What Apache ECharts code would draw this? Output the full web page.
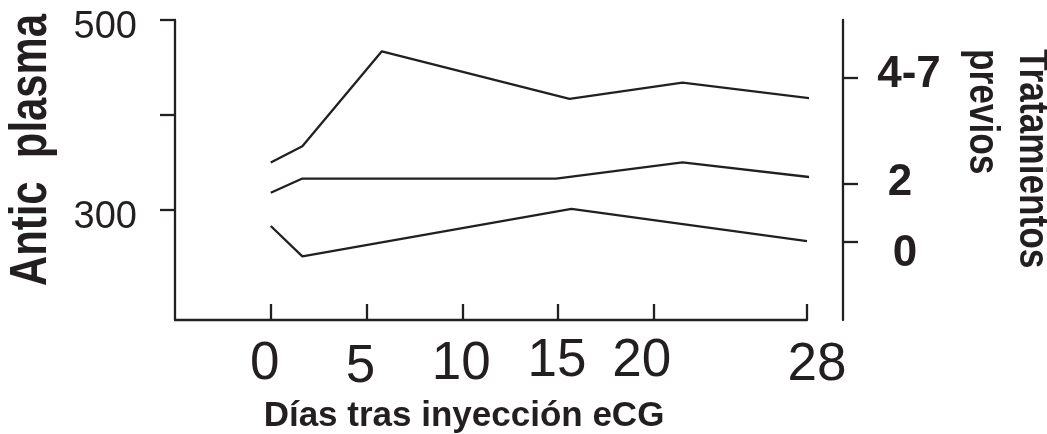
<!DOCTYPE html>
<html>
<head>
<meta charset="utf-8">
<script src="https://cdn.jsdelivr.net/npm/echarts@6/dist/echarts.min.js"></script>
<style>
  html, body { margin: 0; padding: 0; background: #ffffff; }
  #chart { width: 1047px; height: 434px; }
</style>
</head>
<body>
<div id="chart"></div>
<script>
// Day axis ticks and plasma axis ticks
const dayTicks = [0, 5, 10, 15, 20, 28];
const plasmaTicks = [300, 400, 500];
const plasmaLabels = [300, 500];

// Right-hand group markers (number of previous treatments)
const groupTicks = [266, 328, 439];
const groupLabels = ['0', '2', '4-7'];

// Plasma antibody level per day, one line per treatment group
const groupHigh = [[0, 350], [1.65, 367], [5.8, 467], [15.6, 417], [21.5, 434], [28.8, 416]];
const groupMid  = [[0, 318], [1.65, 333], [14.9, 333], [21.5, 350], [28.8, 333]];
const groupNone = [[0, 283], [1.65, 251], [15.7, 301], [28, 267]];

const ink = '#231f20';
const sans = '"Liberation Sans", Arial, Helvetica, sans-serif';
const stroke = 2.3;

// Shift a rich label by (dx, dy) pixels using asymmetric padding
function nudge(dx, dy) {
  return [dy > 0 ? 2 * dy : 0, dx < 0 ? -2 * dx : 0, dy < 0 ? -2 * dy : 0, dx > 0 ? 2 * dx : 0];
}
function richSet(keys, shifts, base) {
  const rich = {};
  keys.forEach((k, i) => {
    rich['k' + i] = Object.assign({}, base, { padding: nudge(shifts[i][0], shifts[i][1]) });
  });
  return rich;
}

const dayBase = { fontSize: 53, lineHeight: 53, fontFamily: sans, color: ink };
const dayShift = [[-6, 0], [-6, 3], [-1, 0], [-1, -3], [-12, -3], [10, 1]];
const plasmaBase = { fontSize: 38, lineHeight: 38, fontFamily: sans, color: ink };
const groupBase = { fontSize: 44, lineHeight: 44, fontWeight: 'bold', fontFamily: sans, color: ink };
const groupShift = [[0, 12], [-5, 0], [4, -3]];

const lineStyle = { color: ink, width: stroke };
const axisStroke = { color: ink, width: stroke };

// Condensed bold titles: regular bold face squeezed along the reading direction
function title(text, x, y, rotation, size, align) {
  return {
    type: 'text', x: x, y: y, rotation: rotation, scaleX: 0.82, silent: true,
    style: {
      text: text, fill: ink, fontSize: size, fontWeight: 'bold', fontFamily: sans,
      align: align, verticalAlign: 'middle'
    }
  };
}

const chart = echarts.init(document.getElementById('chart'), null, { renderer: 'canvas' });
chart.setOption({
  animation: false,
  backgroundColor: '#ffffff',
  grid: { left: 175, right: 240, top: 20, bottom: 114, containLabel: false, outerBoundsMode: 'none' },
  xAxis: {
    type: 'value',
    min: -5,
    max: 28,
    splitLine: { show: false },
    axisLine: { show: true, onZero: false, lineStyle: axisStroke },
    axisTick: { show: true, customValues: dayTicks, inside: true, length: 16, lineStyle: axisStroke },
    axisLabel: {
      customValues: dayTicks,
      margin: 18,
      hideOverlap: false,
      formatter: v => '{k' + dayTicks.indexOf(v) + '|' + v + '}',
      rich: richSet(dayTicks, dayShift, dayBase)
    },
    name: 'Días tras inyección eCG',
    nameLocation: 'middle',
    nameGap: 74,
    nameTextStyle: {
      fontSize: 35, fontWeight: 'bold', fontFamily: sans, color: ink,
      padding: [0, 54, 0, 0]
    }
  },
  yAxis: [
    {
      type: 'value',
      position: 'left',
      min: 184,
      max: 500,
      splitLine: { show: false },
      axisLine: { show: true, onZero: false, lineStyle: axisStroke },
      axisTick: { show: true, customValues: plasmaTicks, length: 15, lineStyle: axisStroke },
      axisLabel: {
        customValues: plasmaLabels,
        margin: 38,
        hideOverlap: false,
        formatter: v => '{k' + plasmaLabels.indexOf(v) + '|' + v + '}',
        rich: richSet(plasmaLabels, [[0, 8], [0, 8]], plasmaBase)
      }
    },
    {
      type: 'value',
      position: 'right',
      offset: 36,
      min: 184,
      max: 500,
      splitLine: { show: false },
      axisLine: { show: true, onZero: false, lineStyle: axisStroke },
      axisTick: { show: true, customValues: groupTicks, length: 15, lineStyle: axisStroke },
      axisLabel: {
        customValues: groupTicks,
        margin: 62,
        align: 'center',
        hideOverlap: false,
        formatter: v => {
          const i = groupTicks.indexOf(v);
          return '{k' + i + '|' + groupLabels[i] + '}';
        },
        rich: richSet(groupLabels, groupShift, groupBase)
      }
    }
  ],
  graphic: [
    title('Antic  plasma', 32, 150, Math.PI / 2, 51, 'center'),
    title('Tratamientos', 1032, 49, -Math.PI / 2, 43, 'left'),
    title('previos', 982, 49, -Math.PI / 2, 43, 'left')
  ],
  series: [
    { type: 'line', data: groupHigh, symbol: 'none', clip: false, lineStyle: lineStyle, silent: true },
    { type: 'line', data: groupMid,  symbol: 'none', clip: false, lineStyle: lineStyle, silent: true },
    { type: 'line', data: groupNone, symbol: 'none', clip: false, lineStyle: lineStyle, silent: true }
  ]
});
</script>
</body>
</html>
